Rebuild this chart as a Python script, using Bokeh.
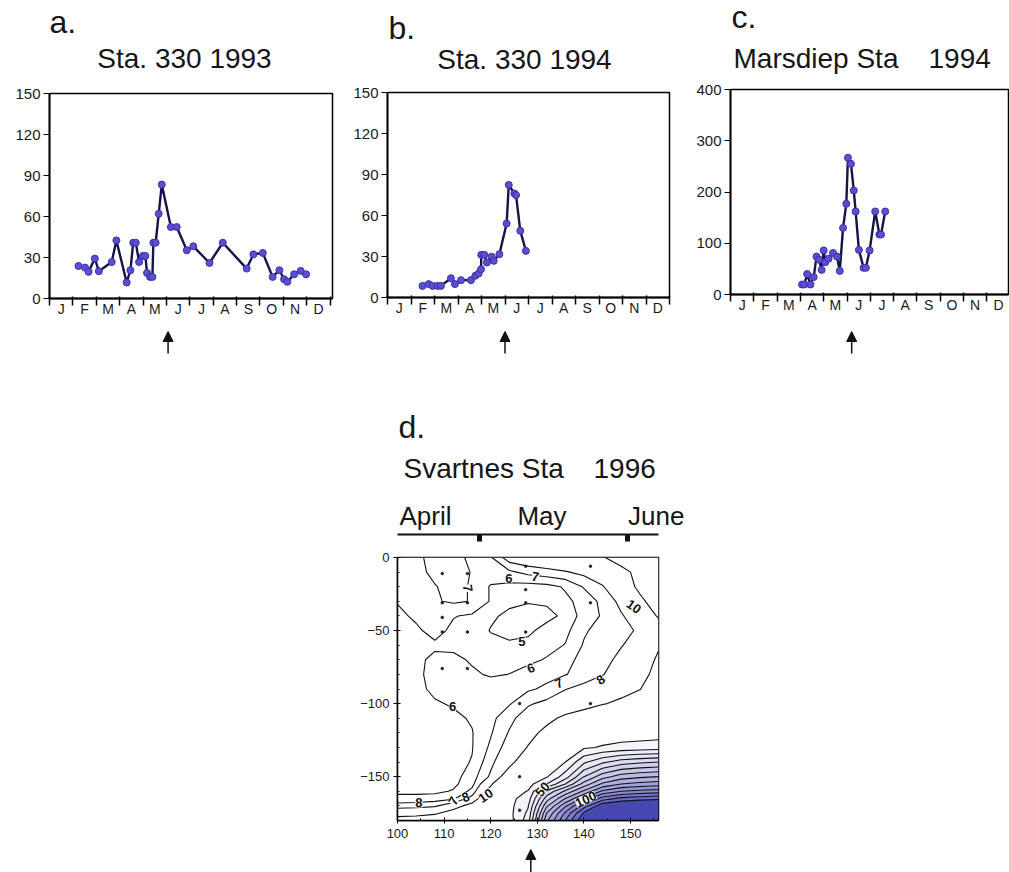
import numpy as np
from bokeh.plotting import figure
from bokeh.layouts import column, row
from bokeh.models import (FixedTicker, Label, Arrow, NormalHead, Range1d, LinearAxis,
                          ColumnDataSource, LabelSet, Spacer)
from bokeh.embed import file_html
from bokeh.resources import INLINE
from bokeh.core.properties import value

FONT = "Liberation Sans"
MONTH_LABELS = ["J", "F", "M", "A", "M", "J", "J", "A", "S", "O", "N", "D"]

# ---------------- data: panel a (Sta. 330 1993), x in months from 1 Jan ----------------
a_month = [1.24, 1.52, 1.67, 1.94, 2.11, 2.66, 2.86, 3.30, 3.46, 3.58, 3.69, 3.83, 3.99,
           4.10, 4.17, 4.30, 4.40, 4.44, 4.54, 4.67, 4.80, 5.19, 5.44, 5.87, 6.15, 6.84,
           7.41, 8.43, 8.72, 9.12, 9.54, 9.83, 10.03, 10.17, 10.46, 10.74, 10.97]
a_value = [23.8, 22.6, 19.5, 29.2, 20.0, 26.7, 42.5, 11.7, 20.7, 40.8, 40.8, 26.7, 31.1,
           31.1, 18.7, 15.8, 15.8, 40.8, 40.8, 62.0, 83.4, 52.3, 52.3, 35.3, 38.2, 26.0,
           40.8, 21.9, 32.3, 33.3, 15.8, 20.7, 14.1, 12.2, 17.7, 20.2, 17.7]

# ---------------- panel b (Sta. 330 1994) ----------------
b_month = [1.49, 1.75, 1.92, 2.13, 2.27, 2.70, 2.87, 3.13, 3.55, 3.74, 3.88, 3.98, 3.99,
           4.12, 4.23, 4.43, 4.52, 4.76, 5.07, 5.16, 5.40, 5.47, 5.65, 5.89]
b_value = [8.5, 9.8, 8.5, 8.5, 8.5, 14.1, 9.8, 12.7, 12.7, 15.9, 17.6, 20.7, 31.2,
           31.2, 25.6, 29.8, 26.8, 31.7, 54.1, 82.4, 76.1, 74.9, 48.8, 34.1]

# ---------------- panel c (Marsdiep Sta 1994) ----------------
c_month = [3.07, 3.17, 3.29, 3.43, 3.57, 3.69, 3.80, 3.91, 4.00, 4.07, 4.21, 4.40, 4.57,
           4.69, 4.83, 4.97, 5.04, 5.17, 5.29, 5.37, 5.51, 5.71, 5.81, 5.97, 6.21, 6.39,
           6.46, 6.64]
c_value = [19.5, 19.5, 40, 19.5, 34, 74, 68, 48, 86, 63, 70, 81, 74,
           46, 130, 177, 267, 255, 203, 162, 87, 52, 52, 86, 162, 117,
           117, 162]

arrow_month_a = 5.07
arrow_month_b = 5.0
arrow_month_c = 5.2

# ---------------- panel d (Svartnes Sta 1996): depth x day grid ----------------
d_day = [100, 104, 108, 112, 116, 120, 124, 128, 132, 136, 140, 144, 148, 152, 156]
d_depth = [0, -10, -20, -30, -40, -50, -60, -70, -80, -90, -100, -110, -120, -130,
           -140, -150, -155, -160, -165, -170, -175, -180]
d_values = [
    [6.5, 6.8, 7.3, 7.3, 6.8, 6.9, 8.6, 9.0, 9.2, 9.4, 9.6, 9.9, 10.6, 11.2, 11.8],
    [6.5, 6.75, 7.2, 7.4, 6.95, 6.6, 6.8, 7.3, 7.6, 7.9, 8.3, 8.9, 9.6, 10.4, 11.0],
    [6.3, 6.7, 6.95, 7.3, 6.9, 5.9, 5.7, 5.6, 5.7, 6.1, 7.1, 7.9, 9.2, 10.3, 11.0],
    [6.05, 6.4, 6.9, 7.15, 6.95, 5.9, 5.2, 5.05, 5.1, 5.8, 6.3, 7.3, 8.3, 9.7, 10.7],
    [5.8, 6.15, 6.4, 6.05, 5.85, 5.15, 4.8, 4.7, 4.8, 5.15, 6.5, 7.1, 7.9, 8.6, 10.2],
    [5.6, 5.85, 6.3, 5.8, 5.5, 4.95, 4.7, 4.85, 5.25, 5.7, 6.85, 7.45, 7.8, 8.1, 9.0],
    [5.5, 5.6, 5.85, 5.7, 5.5, 5.3, 5.15, 5.2, 5.6, 6.05, 7.1, 7.6, 7.95, 8.4, 9.8],
    [5.5, 5.8, 6.2, 6.3, 5.85, 5.5, 5.5, 5.7, 6.1, 6.7, 7.3, 7.7, 8.25, 8.9, 10.3],
    [5.5, 5.8, 6.3, 6.4, 6.2, 5.85, 6.02, 6.5, 6.7, 6.95, 7.4, 7.95, 8.5, 9.2, 10.8],
    [5.5, 5.75, 6.2, 6.5, 6.6, 6.7, 6.8, 6.85, 7.2, 7.95, 8.4, 8.9, 9.5, 9.95, 11.0],
    [5.5, 5.6, 5.9, 6.1, 6.4, 6.6, 6.9, 7.85, 8.3, 8.8, 9.3, 9.9, 10.3, 11.0, 12.0],
    [5.5, 5.55, 5.6, 5.8, 6.1, 6.7, 7.7, 8.6, 9.5, 10.4, 11.0, 11.5, 12.0, 12.5, 13.0],
    [5.5, 5.5, 5.55, 5.7, 5.95, 6.9, 8.1, 9.4, 10.5, 12.0, 13.0, 14.0, 14.5, 15.0, 15.5],
    [5.5, 5.5, 5.5, 5.7, 5.95, 7.2, 8.6, 10.1, 12.5, 15.0, 18.5, 21.0, 23.0, 24.0, 25.0],
    [5.5, 5.5, 5.6, 5.7, 6.05, 7.7, 9.2, 12.0, 15.0, 20.0, 38.0, 48.0, 55.0, 58.0, 60.0],
    [5.55, 5.55, 5.6, 5.6, 6.55, 8.2, 11.5, 15.0, 19.0, 35.0, 60.0, 76.0, 85.0, 88.0, 90.0],
    [5.6, 5.6, 5.7, 5.75, 6.7, 9.6, 14.0, 16.0, 30.0, 50.0, 74.0, 92.0, 100.0, 103.0, 105.0],
    [5.7, 5.7, 5.75, 6.1, 7.3, 11.0, 15.0, 20.5, 52.0, 72.0, 92.0, 112.0, 120.0, 123.0, 125.0],
    [6.4, 6.4, 6.5, 6.8, 8.5, 13.0, 17.0, 25.0, 65.0, 90.0, 112.0, 135.0, 143.0, 146.0, 148.0],
    [7.4, 7.5, 7.8, 9.0, 11.0, 14.0, 17.0, 29.0, 78.0, 108.0, 135.0, 158.0, 163.0, 165.0, 165.0],
    [9.3, 9.4, 9.7, 11.0, 12.5, 14.0, 17.0, 32.0, 90.0, 122.0, 152.0, 172.0, 174.0, 175.0, 175.0],
    [10.8, 11.0, 11.5, 12.0, 13.0, 14.5, 16.0, 35.0, 98.0, 130.0, 160.0, 176.0, 178.0, 180.0, 180.0],
]
d_levels = [5, 6, 7, 8, 10, 20, 30, 40, 50, 60, 70, 80, 90, 100, 110, 120, 130, 140, 150, 200]

# contour labels
clab_day = [126.7, 128.6, 134.6, 143.6, 150.7, 123.9, 129.6, 115.1, 111.8, 131.1, 140.4, 118.9, 114.6, 112.0, 104.6]
clab_depth = [-57.5, -75.7, -86.0, -83.6, -33.6, -14.3, -13.2, -21.0, -101.8, -158.6, -165.5, -163.0, -164.0, -166.5, -168.0]
clab_text = ["5", "6", "7", "8", "10", "6", "7", "7", "6", "50", "100", "10", "8", "7", "8"]
clab_angle = [0, 20, 25, 35, -35, 0, -10, -80, 0, 50, 25, 35, 20, 60, 0]

# sample positions (dots)
sample_day = [109.6, 109.6, 109.6, 109.6, 109.6, 115.0, 115.0, 115.0, 115.0, 127.5, 127.5,
              127.5, 127.5, 126.2, 126.2, 126.2, 141.4, 141.4, 141.4]
sample_depth = [-11, -31, -41, -51, -76, -11, -31, -51, -76, -6, -22, -31, -51, -100,
                -150, -173, -6, -31, -100]

# month header above panel d
header_month_names = ["April", "May", "June"]
header_label_day = [106.0, 131.0, 155.5]
header_tick_day = [117.7, 149.3]
arrow_day_d = 128.6


# ---------------- helpers ----------------
def bare_figure(frame_w, frame_h, x_range, y_range, b_left=0, b_right=0, b_top=0, b_bottom=0):
    p = figure(frame_width=frame_w, frame_height=frame_h, x_range=x_range, y_range=y_range,
               min_border_left=b_left, min_border_right=b_right,
               min_border_top=b_top, min_border_bottom=b_bottom,
               x_axis_location=None, y_axis_location=None,
               output_backend="svg", toolbar_location=None)
    p.grid.visible = False
    p.outline_line_color = None
    return p


def add_text(p, x, baseline, text, size, align="left"):
    # text is placed by its vertical middle; shift so that the glyph baseline lands on `baseline`
    p.add_layout(Label(x=x, y=baseline - 0.35 * size, text=text, text_font=FONT,
                       text_font_size=f"{size}px", text_align=align, text_baseline="middle",
                       text_color="#161616"))


def add_arrow(p, x, y_tip, y_tail):
    p.add_layout(Arrow(end=NormalHead(size=10, fill_color="#111111", line_color="#111111", line_width=1),
                       x_start=x, y_start=y_tail, x_end=x, y_end=y_tip,
                       line_color="#111111", line_width=1.5))


def month_panel(xr, y_max, y_step, frame_w, b_left, b_right, b_top, b_bottom, months, values):
    p = figure(frame_width=frame_w, frame_height=205, x_range=xr, y_range=Range1d(0, y_max),
               min_border_left=b_left, min_border_right=b_right,
               min_border_top=b_top, min_border_bottom=b_bottom,
               output_backend="svg", toolbar_location=None)
    p.grid.visible = False
    p.outline_line_color = "black"
    p.outline_line_width = 1.5

    xa = p.xaxis[0]
    xa.ticker = FixedTicker(ticks=[i + 0.5 for i in range(12)], minor_ticks=list(range(13)))
    xa.major_label_overrides = {i + 0.5: m for i, m in enumerate(MONTH_LABELS)}
    xa.major_tick_out = 0
    xa.major_tick_in = 0
    xa.minor_tick_out = 7
    xa.minor_tick_in = 2
    xa.minor_tick_line_width = 1.5
    xa.minor_tick_line_color = "black"
    xa.axis_line_width = 1.8
    xa.axis_line_color = "black"
    xa.major_label_standoff = -5
    xa.major_label_text_font = FONT
    xa.major_label_text_font_size = "14px"
    xa.major_label_text_color = "#1a1a1a"

    ya = p.yaxis[0]
    ya.ticker = FixedTicker(ticks=list(range(0, y_max + 1, y_step)))
    ya.major_tick_out = 6
    ya.major_tick_in = 0
    ya.major_tick_line_width = 1.2
    ya.minor_tick_out = 0
    ya.minor_tick_in = 0
    ya.axis_line_width = 1.8
    ya.axis_line_color = "black"
    ya.major_label_standoff = 3
    ya.major_label_text_font = FONT
    ya.major_label_text_font_size = "15px"
    ya.major_label_text_color = "#1a1a1a"

    p.line(months, values, line_color="#141446", line_width=2.4)
    p.scatter(months, values, size=7, fill_color="#5a4fd0", line_color="#3b32a6", line_width=1)
    return p


# ---------------- top row: three stacks (header / panel / arrow) ----------------
HEAD_H = 80
ARROW_TOP, ARROW_BOT = 328, 370


def month_stack(col_left, col_w, b_left, frame_w, x_end, y_max, y_step, b_top, b_bottom,
                months, values, arrow_month, texts):
    xr = Range1d(0, x_end)
    b_right = col_w - b_left - frame_w
    f_left = col_left + b_left
    # header: same frame as the panel; coordinates = page pixels (y downward)
    head = bare_figure(frame_w, HEAD_H, Range1d(f_left, f_left + frame_w), Range1d(HEAD_H, 0),
                       b_left=b_left, b_right=b_right)
    for (x, y, t, s, al) in texts:
        add_text(head, x, y, t, s, al)
    panel = month_panel(xr, y_max, y_step, frame_w, b_left, b_right, b_top, b_bottom, months, values)
    arr = bare_figure(frame_w, ARROW_BOT - ARROW_TOP, xr, Range1d(ARROW_BOT, ARROW_TOP),
                      b_left=b_left, b_right=b_right)
    add_arrow(arr, arrow_month, 331, 353)
    return column(head, panel, arr)


stack_a = month_stack(0, 345, 49, 283, 12.1, 150, 30, 13, 30, a_month, a_value, arrow_month_a,
                      [(49, 33, "a.", 32, "left"), (184, 68, "Sta. 330 1993", 28, "center")])
stack_b = month_stack(345, 341, 42, 282, 12.0, 150, 30, 12, 31, b_month, b_value, arrow_month_b,
                      [(388, 39, "b.", 32, "left"), (524, 69, "Sta. 330 1994", 28, "center")])
stack_c = month_stack(686, 323, 44, 278, 11.93, 400, 100, 9, 34, c_month, c_value, arrow_month_c,
                      [(731, 28, "c.", 32, "left"), (733, 68, "Marsdiep Sta", 28, "left"),
                       (928, 68, "1994", 28, "left")])

# ---------------- panel d stack ----------------
D_LEFT = 340
D_BLEFT, D_FW, D_BRIGHT = 57, 261, 42     # frame from 397 to 658
D_TOP = ARROW_BOT                         # 370
HD0_H = 127                               # 370..497 : "d." and station title
HD1_TOP_B, HD1_FH = 34, 15                # 497..546 : April / May / June header
F_LEFT = D_LEFT + D_BLEFT

d_xr = Range1d(100, 156)

hd0 = bare_figure(D_FW, HD0_H, Range1d(F_LEFT, F_LEFT + D_FW), Range1d(D_TOP + HD0_H, D_TOP),
                  b_left=D_BLEFT, b_right=D_BRIGHT)
add_text(hd0, 398, 438, "d.", 32)
add_text(hd0, 403, 478, "Svartnes Sta", 28)
add_text(hd0, 593, 478, "1996", 28)

hd1 = bare_figure(D_FW, HD1_FH, d_xr, Range1d(0, 1), b_left=D_BLEFT, b_right=D_BRIGHT,
                  b_top=HD1_TOP_B)
top_ax = LinearAxis(
    ticker=FixedTicker(ticks=header_label_day, minor_ticks=header_tick_day),
    major_label_overrides={d: n for d, n in zip(header_label_day, header_month_names)},
    major_tick_out=0, major_tick_in=0, minor_tick_out=0, minor_tick_in=7,
    minor_tick_line_width=5, minor_tick_line_color="#111111",
    axis_line_width=2, axis_line_color="#111111",
    major_label_standoff=4, major_label_text_font=FONT, major_label_text_font_size="26px",
    major_label_text_color="#161616")
hd1.add_layout(top_ax, "above")

pd_ = figure(frame_width=D_FW, frame_height=263, x_range=d_xr, y_range=Range1d(-180, 0),
             min_border_left=D_BLEFT, min_border_right=D_BRIGHT, min_border_top=8, min_border_bottom=25,
             output_backend="svg", toolbar_location=None)
pd_.grid.visible = False
pd_.outline_line_color = "black"
pd_.outline_line_width = 1.5

blob_colors = []
for i in range(13):
    t = ((i + 1) / 14.0) ** 1.35
    r = int(round(248 - (248 - 92) * t))
    gg = int(round(248 - (248 - 92) * t))
    b = int(round(252 - (252 - 196) * t))
    blob_colors.append(f"#{r:02x}{gg:02x}{b:02x}")
fills = ["white"] * 5 + blob_colors + ["#4848b2"]

z = np.array(d_values[::-1], dtype=float)
ys = np.array(d_depth[::-1], dtype=float)
xs = np.array(d_day, dtype=float)
pd_.contour(x=xs, y=ys, z=z, levels=d_levels, fill_color=fills,
            line_color="#111111", line_width=1.1)

pd_.scatter(sample_day, sample_depth, size=2.5, color="#222222")

src = ColumnDataSource(dict(x=clab_day, y=clab_depth, t=clab_text, a=clab_angle))
pd_.add_layout(LabelSet(x="x", y="y", text="t", angle="a", angle_units="deg", source=src,
                        text_font=value(FONT), text_font_style="bold", text_font_size="13px",
                        text_align="center", text_baseline="middle", text_color="#111111",
                        background_fill_color="white", background_fill_alpha=1.0))

xa = pd_.xaxis[0]
xa.ticker = FixedTicker(ticks=[100, 110, 120, 130, 140, 150], minor_ticks=[105, 115, 125, 135, 145, 155])
xa.major_tick_in = 3
xa.major_tick_out = 3
xa.minor_tick_in = 2
xa.minor_tick_out = 0
xa.axis_line_width = 1.5
xa.major_label_standoff = 5
xa.major_label_text_font = FONT
xa.major_label_text_font_size = "13px"
xa.major_label_text_color = "#1a1a1a"

ya = pd_.yaxis[0]
ya.ticker = FixedTicker(ticks=[0, -50, -100, -150],
                        minor_ticks=[-10, -20, -30, -40, -60, -70, -80, -90, -110, -120, -130, -140, -160, -170])
ya.major_tick_in = 3
ya.major_tick_out = 4
ya.minor_tick_in = 2
ya.minor_tick_out = 0
ya.axis_line_width = 1.5
ya.major_label_standoff = 4
ya.major_label_text_font = FONT
ya.major_label_text_font_size = "13px"
ya.major_label_text_color = "#1a1a1a"

ad = bare_figure(D_FW, 30, d_xr, Range1d(872, 842), b_left=D_BLEFT, b_right=D_BRIGHT)
add_arrow(ad, arrow_day_d, 846, 871)

layout = column(row(stack_a, stack_b, stack_c),
                row(Spacer(width=D_LEFT, height=10), column(hd0, hd1, pd_, ad)))

open("out.html", "w").write(file_html(layout, INLINE))
